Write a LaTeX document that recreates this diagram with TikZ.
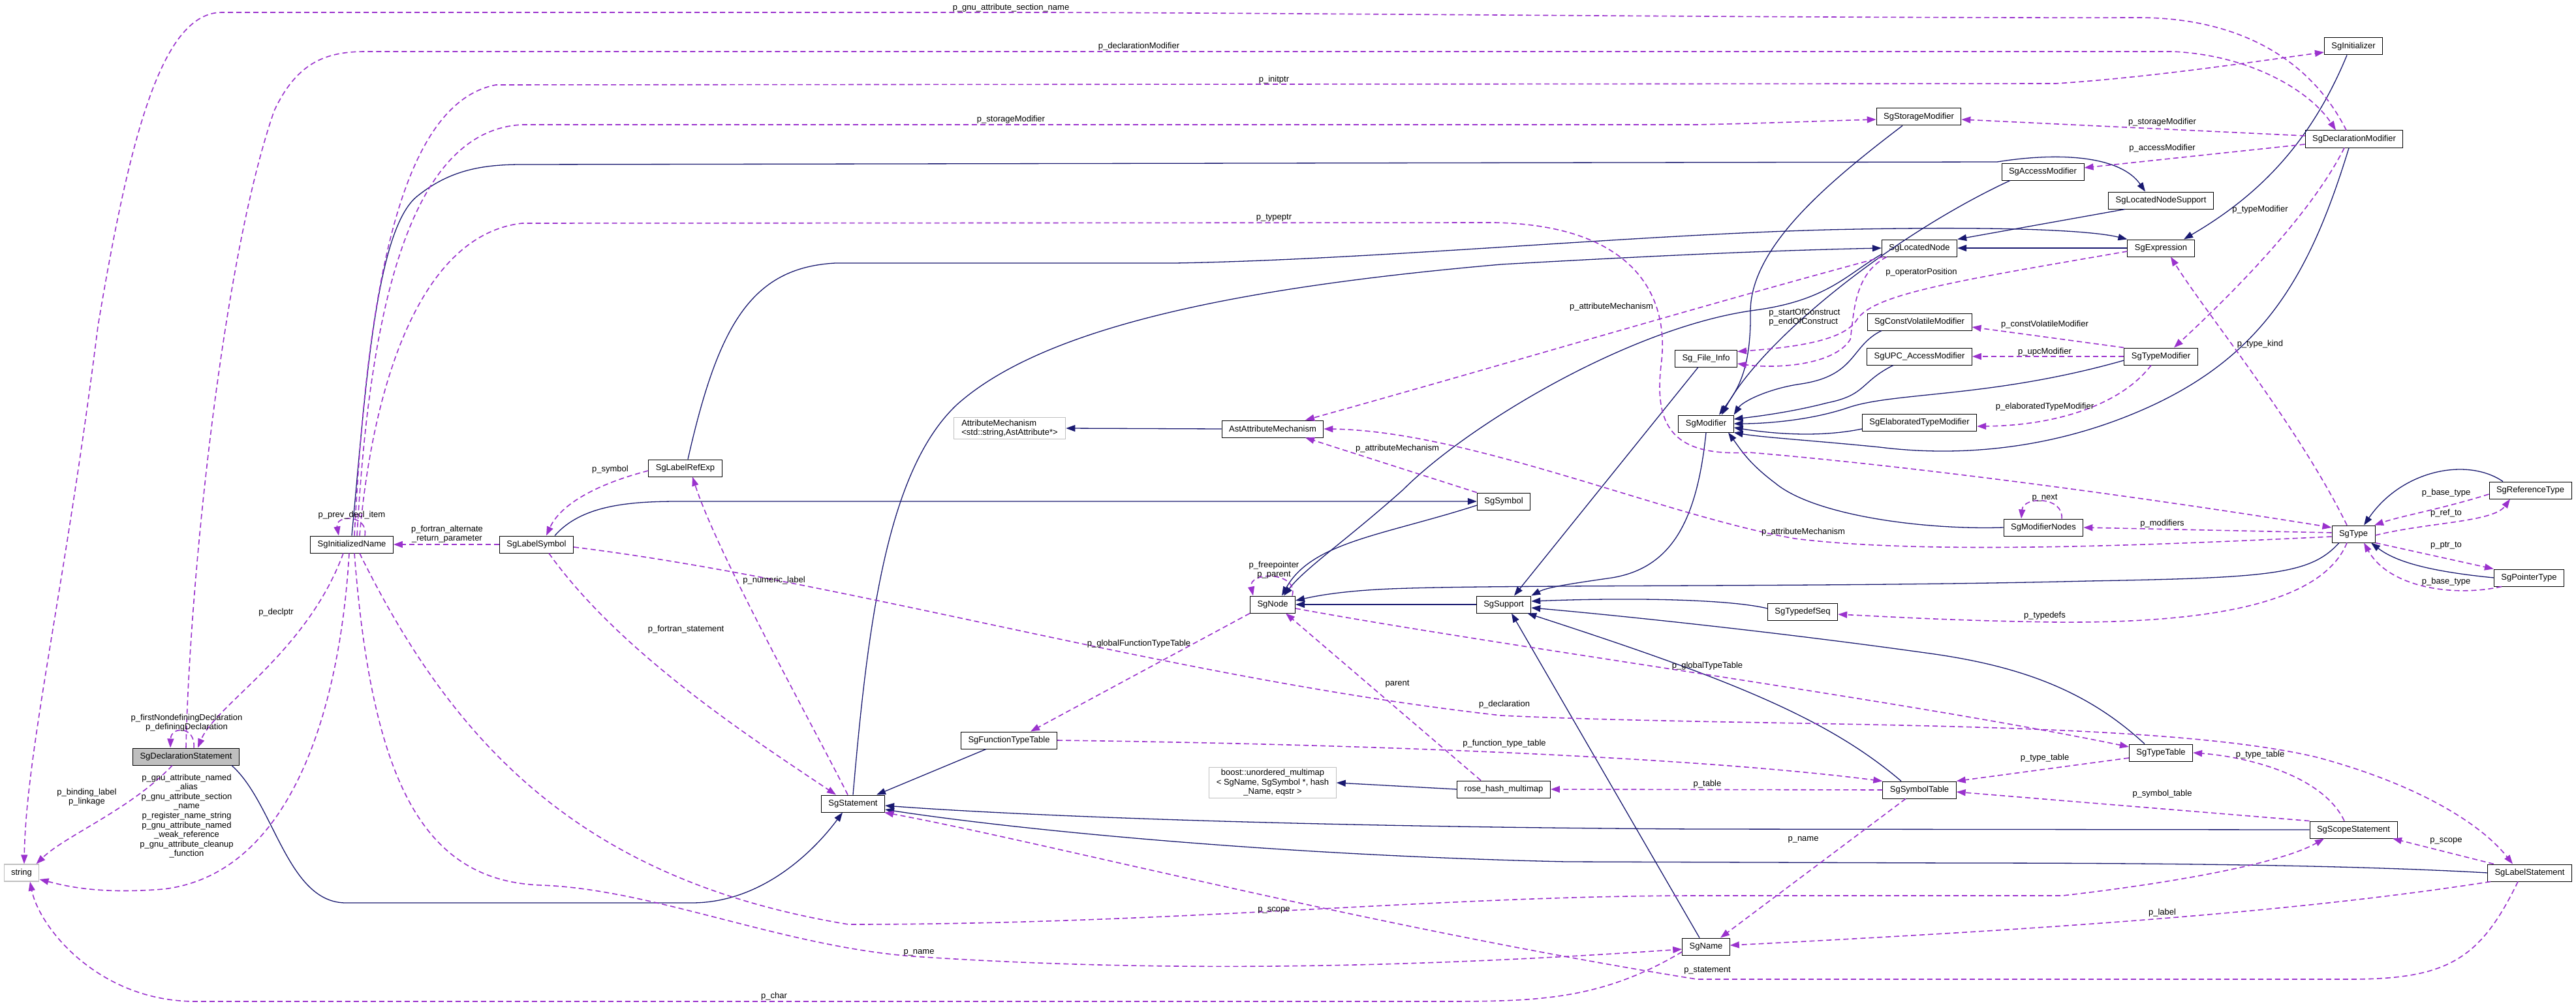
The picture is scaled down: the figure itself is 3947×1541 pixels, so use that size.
\documentclass[tikz,border=0pt]{standalone}
\usepackage{fontspec}
\setmainfont{Liberation Sans}
\usetikzlibrary{arrows.meta}
\definecolor{inhblue}{RGB}{25,25,112}
\definecolor{usepurple}{RGB}{154,50,205}
\definecolor{focusgray}{RGB}{191,191,191}
\definecolor{extgray}{RGB}{191,191,191}
\tikzset{
  cls/.style={draw=black, fill=white, line width=1pt, inner xsep=11pt, inner ysep=3pt,
    minimum height=26pt, font=\fontsize{13}{14.6}\selectfont},
  extcls/.style={cls, draw=extgray, line width=1.2pt},
  inh/.style={draw=inhblue, line width=1.3pt, -{Triangle[length=14pt,width=10pt]}},
  member/.style={draw=usepurple, line width=1.6pt, dash pattern=on 8pt off 5pt,
    -{Triangle[length=14pt,width=10pt]}},
  lbl/.style={font=\fontsize{13}{14.6}\selectfont, inner sep=0pt, align=center},
}

\begin{document}
\begin{tikzpicture}[x=1pt, y=-1pt]

  % canvas
  \fill[white, use as bounding box] (0,0) rectangle (3947,1541);

  % classes
  \node[cls, fill=focusgray] (decl) at (285,1159) {SgDeclarationStatement};
  \node[extcls] (str) at (33,1337) {string};
  \node[cls] (initname) at (539,834) {SgInitializedName};
  \node[cls] (labelsym) at (822,834) {SgLabelSymbol};
  \node[cls] (labelref) at (1050,717) {SgLabelRefExp};
  \node[cls] (stmt) at (1307,1231) {SgStatement};
  \node[cls] (ftypetab) at (1546,1134) {SgFunctionTypeTable};
  \node[extcls, align=left, inner xsep=12pt] (attrmech) at (1547,656)
    {AttributeMechanism\\<std::string,AstAttribute*>};
  \node[cls] (astattr) at (1950,657) {AstAttributeMechanism};
  \node[cls] (sgnode) at (1950,926) {SgNode};
  \node[extcls, align=center] (boost) at (1950,1199)
    {boost::unordered\_multimap\\< SgName, SgSymbol *, hash\\\_Name, eqstr >};
  \node[cls] (symbol) at (2304,768) {SgSymbol};
  \node[cls] (support) at (2304,926) {SgSupport};
  \node[cls] (rosehash) at (2304,1209) {rose\_hash\_multimap};
  \node[cls] (fileinfo) at (2614,549) {Sg\_File\_Info};
  \node[cls] (modifier) at (2614,649) {SgModifier};
  \node[cls] (sgname) at (2614,1450) {SgName};
  \node[cls] (storage) at (2940,179) {SgStorageModifier};
  \node[cls] (located) at (2941,380) {SgLocatedNode};
  \node[cls] (cvmod) at (2941,493) {SgConstVolatileModifier};
  \node[cls] (upcmod) at (2941,546) {SgUPC\_AccessModifier};
  \node[cls] (elabmod) at (2941,647) {SgElaboratedTypeModifier};
  \node[cls] (typedefseq) at (2762,937) {SgTypedefSeq};
  \node[cls] (symtab) at (2941,1210) {SgSymbolTable};
  \node[cls] (access) at (3130,263) {SgAccessModifier};
  \node[cls] (modnodes) at (3131,808) {SgModifierNodes};
  \node[cls] (locsupport) at (3311,307) {SgLocatedNodeSupport};
  \node[cls] (expr) at (3311,380) {SgExpression};
  \node[cls] (typemod) at (3311,546) {SgTypeModifier};
  \node[cls] (typetab) at (3311,1153) {SgTypeTable};
  \node[cls] (initializer) at (3606,71) {SgInitializer};
  \node[cls] (declmod) at (3607,213) {SgDeclarationModifier};
  \node[cls] (sgtype) at (3606,818) {SgType};
  \node[cls] (scope) at (3606,1271) {SgScopeStatement};
  \node[cls] (reftype) at (3877,751) {SgReferenceType};
  \node[cls] (ptrtype) at (3875,885) {SgPointerType};
  \node[cls] (labelstmt) at (3876,1337) {SgLabelStatement};

  % inheritance
  \draw[inh] ([xshift=-12pt]decl.south east) .. controls (420,1230) and (440,1383) .. (530,1383)
    -- (1060,1383) .. controls (1170,1383) and (1250,1300) .. ([xshift=-16pt]stmt.south);
  \draw[inh] (stmt.north) .. controls (1330,950) and (1360,720) .. (1466,620)
    .. controls (1600,500) and (1900,440) .. (2300,405) .. controls (2600,388) and (2750,383) .. (located.west);
  \draw[inh] ([xshift=-35pt]ftypetab.south) -- ([xshift=36pt]stmt.north);
  \draw[inh] (scope.west) -- (2600,1270) .. controls (1900,1266) and (1500,1245) .. ([yshift=-3pt]stmt.east);
  \draw[inh] (labelstmt.west) .. controls (3600,1325) and (3300,1322) .. (3000,1322) -- (2400,1320)
    .. controls (1950,1310) and (1550,1270) .. ([yshift=-9pt]stmt.east);
  \draw[inh] ([xshift=28pt]labelsym.north) .. controls (890,775) and (960,768) .. (1040,768) -- (symbol.west);
  \draw[inh] ([yshift=-6pt]symbol.west) .. controls (2120,820) and (2010,830) .. ([xshift=14pt]sgnode.north);
  \draw[inh] ([yshift=4pt]located.south west) .. controls (2830,420) and (2800,460) .. (2690,475)
    .. controls (2500,500) and (2250,650) .. (2150,750) .. controls (2060,830) and (2000,870) .. ([xshift=17pt]sgnode.north);
  \draw[inh] (support.west) -- (sgnode.east);
  \draw[inh] ([xshift=-22pt]sgtype.south) .. controls (3540,880) and (3480,885) .. (3200,890)
    .. controls (2800,900) and (2300,895) .. (2130,902) .. controls (2060,905) and (2020,912) .. ([yshift=6pt]sgnode.east);
  \draw[inh] ([xshift=-25pt]storage.south) .. controls (2800,280) and (2680,380) .. (2682,480)
    .. controls (2683,570) and (2660,600) .. ([xshift=20pt]modifier.north);
  \draw[inh] ([xshift=-50pt]access.south) .. controls (2900,360) and (2700,520) .. ([xshift=24pt]modifier.north);
  \draw[inh] ([xshift=-58pt]cvmod.south) .. controls (2835,530) and (2845,575) .. (2760,588)
    .. controls (2710,595) and (2670,615) .. (modifier.north east);
  \draw[inh] ([xshift=-40pt]upcmod.south) .. controls (2850,585) and (2860,605) .. (2800,617)
    .. controls (2750,630) and (2700,637) .. ([yshift=7pt]modifier.east);
  \draw[inh] ([yshift=-6pt]typemod.west) .. controls (3050,610) and (2900,600) .. (2830,625)
    .. controls (2770,645) and (2700,649) .. (modifier.east);
  \draw[inh] ([yshift=-10pt]elabmod.west) .. controls (2790,670) and (2720,665) .. ([yshift=-6pt]modifier.east);
  \draw[inh] ([xshift=-8pt]declmod.south) .. controls (3540,420) and (3470,540) .. (3300,620)
    .. controls (3150,690) and (3000,700) .. (2880,685) .. controls (2780,675) and (2700,670) .. (modifier.south east);
  \draw[inh] (modnodes.west) .. controls (2950,812) and (2780,790) .. (2720,740)
    .. controls (2680,710) and (2668,690) .. ([xshift=34pt]modifier.south);
  \draw[inh] (modifier.south) .. controls (2600,800) and (2560,870) .. (2470,885)
    .. controls (2400,895) and (2370,900) .. (support.north east);
  \draw[inh] ([xshift=-12pt]fileinfo.south) -- ([xshift=16pt]support.north);
  \draw[inh] ([yshift=5pt]typedefseq.west) .. controls (2650,918) and (2500,915) .. ([yshift=5pt]support.east);
  \draw[inh] ([xshift=-25pt]typetab.north) .. controls (3200,1060) and (3100,1020) .. (2950,1000)
    .. controls (2700,965) and (2450,940) .. ([yshift=-5pt]support.east);
  \draw[inh] ([xshift=-28pt]symtab.north) .. controls (2800,1100) and (2650,1040) .. ([xshift=-6pt]support.south east);
  \draw[inh] ([xshift=-10pt]sgname.north) -- ([xshift=12pt]support.south);
  \draw[inh] (rosehash.west) -- (boost.east);
  \draw[inh] (astattr.west) -- (attrmech.east);
  \draw[inh] ([xshift=-55pt]locsupport.south) -- (located.north east);
  \draw[inh] (expr.west) -- (located.east);
  \draw[inh] (initname.north) .. controls (560,600) and (575,350) .. (640,300)
    .. controls (690,260) and (740,252) .. (800,252) -- (3060,248)
    .. controls (3160,232) and (3250,240) .. ([xshift=-24pt]locsupport.north);
  \draw[inh] ([xshift=4pt]labelref.north) .. controls (1100,500) and (1150,410) .. (1280,403) -- (1800,403)
    .. controls (2100,398) and (2500,360) .. (2800,352) .. controls (3050,346) and (3200,352) .. (expr.north west);
  \draw[inh] ([xshift=-10pt]initializer.south) .. controls (3540,220) and (3460,300) .. ([xshift=35pt]expr.north);
  \draw[inh] ([xshift=-42pt]reftype.north) .. controls (3780,700) and (3680,720) .. ([xshift=16pt]sgtype.north);
  \draw[inh] (ptrtype.west) .. controls (3720,875) and (3670,860) .. ([xshift=27pt]sgtype.south);

  % members
  \draw[member] ([xshift=-12pt]declmod.north) .. controls (3540,90) and (3430,28) .. (3280,27)
    .. controls (2800,28) and (2000,20) .. (1600,19) -- (340,19)
    .. controls (250,19) and (200,200) .. (150,500) .. controls (100,900) and (40,1150) .. ([xshift=4pt]str.north);
  \draw[member] (decl.north) .. controls (290,900) and (340,400) .. (420,170)
    .. controls (455,95) and (500,79) .. (560,79) -- (3330,79)
    .. controls (3450,85) and (3540,140) .. ([xshift=-28pt]declmod.north);
  \draw[member] ([xshift=4pt]initname.north) .. controls (560,500) and (600,160) .. (760,130) -- (3150,128)
    .. controls (3300,118) and (3450,95) .. ([yshift=-9pt]initializer.west);
  \draw[member] ([xshift=8pt]initname.north) .. controls (565,500) and (620,200) .. (800,191) -- (2600,191)
    .. controls (2700,189) and (2800,185) .. ([yshift=-4pt]storage.west);
  \draw[member] ([yshift=5pt]declmod.west) -- ([yshift=-4pt]storage.east);
  \draw[member] ([yshift=-8pt]declmod.west) -- ([yshift=6pt]access.east);
  \draw[member] ([xshift=-15pt]declmod.south) .. controls (3540,330) and (3420,450) .. ([xshift=20pt]typemod.north);
  \draw[member] ([xshift=12pt]initname.north) .. controls (570,600) and (640,360) .. (800,342) -- (2290,341)
    .. controls (2500,345) and (2560,450) .. (2545,560) .. controls (2535,650) and (2560,700) .. (2680,693)
    .. controls (3000,720) and (3400,780) .. ([yshift=10pt]sgtype.west);
  \draw[member] (symbol.north west) -- ([xshift=50pt]astattr.south);
  \draw[member] ([xshift=2pt]located.south west) .. controls (2600,470) and (2300,560) .. ([xshift=50pt]astattr.north);
  \draw[member] ([yshift=-4pt]sgtype.west) .. controls (3300,835) and (2950,850) .. (2750,825)
    .. controls (2550,790) and (2250,660) .. (astattr.east);
  \draw[member] ([xshift=30pt]sgnode.north) .. controls (1990,875) and (1912,875) .. ([xshift=-30pt]sgnode.north);
  \draw[member] ([xshift=20pt]initname.north) .. controls (565,788) and (513,788) .. ([xshift=-20pt]initname.north);
  \draw[member] (labelsym.west) -- (initname.east);
  \draw[member] ([yshift=-4pt]labelref.west) .. controls (920,740) and (860,770) .. ([xshift=15pt]labelsym.north);
  \draw[member] ([xshift=-8pt]stmt.north) .. controls (1250,1120) and (1100,850) .. ([xshift=11pt]labelref.south);
  \draw[member] ([xshift=19pt]labelsym.south) .. controls (950,1000) and (1150,1130) .. ([xshift=-26pt]stmt.north);
  \draw[member] ([xshift=-13pt]initname.south) .. controls (470,1000) and (330,1080) .. ([xshift=18pt]decl.north);
  \draw[member] ([xshift=12pt]decl.north) .. controls (300,1112) and (262,1112) .. ([xshift=-24pt]decl.north);
  \draw[member] ([xshift=-21pt]decl.south) .. controls (200,1240) and (100,1280) .. ([xshift=-5pt]str.north east);
  \draw[member] ([xshift=-4pt]initname.south) .. controls (520,1100) and (440,1340) .. (250,1362)
    .. controls (150,1370) and (100,1357) .. ([yshift=-10pt]str.east);
  \draw[member] ([xshift=4pt]initname.south) .. controls (570,1200) and (650,1350) .. (830,1356)
    .. controls (1000,1362) and (1200,1450) .. (1400,1465)
    .. controls (1800,1492) and (2200,1480) .. ([yshift=-4pt]sgname.west);
  \draw[member] ([xshift=12pt]initname.south) .. controls (700,1150) and (900,1350) .. (1300,1416)
    .. controls (1800,1416) and (2200,1372) .. (2600,1372) -- (3160,1372)
    .. controls (3350,1350) and (3500,1320) .. ([xshift=-45pt]scope.south);
  \draw[member] ([yshift=-8pt]sgname.west) .. controls (2450,1534) and (2350,1534) .. (2200,1534) -- (300,1534)
    .. controls (150,1534) and (60,1420) .. ([xshift=13pt]str.south);
  \draw[member] ([xshift=-18pt]labelstmt.south) .. controls (3800,1470) and (3750,1500) .. (3600,1500) -- (2600,1500)
    .. controls (2100,1420) and (1600,1290) .. ([xshift=48pt]stmt.south);
  \draw[member] ([xshift=-60pt]labelstmt.south) .. controls (3500,1400) and (3100,1425) .. ([yshift=2pt]sgname.east);
  \draw[member] ([xshift=-55pt]labelstmt.north) -- ([xshift=60pt]scope.south);
  \draw[member] ([yshift=-4pt]labelsym.east) .. controls (1300,890) and (1800,1040) .. (2300,1096)
    .. controls (2700,1115) and (3300,1100) .. (3550,1160)
    .. controls (3700,1200) and (3800,1260) .. ([xshift=-26pt]labelstmt.north);
  \draw[member] ([yshift=-6pt]sgnode.east) .. controls (2300,990) and (2900,1070) .. ([yshift=9pt]typetab.west);
  \draw[member] (sgnode.south west) -- ([xshift=33pt]ftypetab.north);
  \draw[member] ([xshift=-35pt]rosehash.north) -- ([xshift=20pt]sgnode.south);
  \draw[member] (ftypetab.east) .. controls (2100,1140) and (2600,1160) .. (symtab.north west);
  \draw[member] (symtab.west) -- (rosehash.east);
  \draw[member] ([yshift=-8pt]typetab.west) -- (symtab.north east);
  \draw[member] ([xshift=-14pt]scope.north) .. controls (3560,1190) and (3450,1160) .. (typetab.east);
  \draw[member] (scope.north west) -- ([yshift=-3pt]symtab.east);
  \draw[member] ([xshift=-21pt]symtab.south) -- ([xshift=22pt]sgname.north);
  \draw[member] ([xshift=-10pt]sgtype.south) .. controls (3560,920) and (3400,955) .. (3150,953)
    .. controls (3000,951) and (2900,945) .. ([yshift=-4pt]typedefseq.east);
  \draw[member] ([yshift=2pt]sgtype.west) -- (modnodes.east);
  \draw[member] ([xshift=28pt]modnodes.north) .. controls (3162,760) and (3100,760) .. ([xshift=-34pt]modnodes.north);
  \draw[member] ([yshift=-6pt]reftype.west) .. controls (3740,780) and (3680,790) .. ([xshift=32pt]sgtype.north);
  \draw[member] ([yshift=-2pt]sgtype.east) .. controls (3720,800) and (3820,800) .. ([xshift=-31pt]reftype.south);
  \draw[member] (sgtype.south east) -- (ptrtype.north west);
  \draw[member] ([xshift=-42pt]ptrtype.south) .. controls (3760,915) and (3660,900) .. ([xshift=16pt]sgtype.south);
  \draw[member] ([xshift=-10pt]sgtype.north) .. controls (3520,650) and (3380,480) .. ([xshift=15pt]expr.south);
  \draw[member] ([yshift=-5pt]expr.west) .. controls (3000,430) and (2870,450) .. (2845,490)
    .. controls (2825,522) and (2750,532) .. ([yshift=-3pt]fileinfo.north east);
  \draw[member] ([xshift=8pt]located.south west) .. controls (2840,420) and (2841,480) .. (2835,520)
    .. controls (2810,560) and (2720,565) .. ([yshift=-8pt]fileinfo.east);
  \draw[member] (typemod.north west) -- ([yshift=-8pt]cvmod.east);
  \draw[member] (typemod.west) -- (upcmod.east);
  \draw[member] ([xshift=-15pt]typemod.south) .. controls (3250,620) and (3150,652) .. ([yshift=-6pt]elabmod.east);

  % edge labels
  \node[lbl] (l-section) at (1549,12) {p\_gnu\_attribute\_section\_name};
  \node[lbl] (l-declmod) at (1745,71) {p\_declarationModifier};
  \node[lbl] (l-initptr) at (1952,122) {p\_initptr};
  \node[lbl] (l-storage1) at (1549,183) {p\_storageModifier};
  \node[lbl] (l-typeptr) at (1952,334) {p\_typeptr};
  \node[lbl] (l-attr1) at (2469,470) {p\_attributeMechanism};
  \node[lbl] (l-storage2) at (3313,187) {p\_storageModifier};
  \node[lbl] (l-access) at (3313,227) {p\_accessModifier};
  \node[lbl] (l-typemod) at (3463,321) {p\_typeModifier};
  \node[lbl] (l-oppos) at (2944,417) {p\_operatorPosition};
  \node[lbl, align=left] (l-construct) at (2765,486) {p\_startOfConstruct\\p\_endOfConstruct};
  \node[lbl] (l-cvmod) at (3133,497) {p\_constVolatileModifier};
  \node[lbl] (l-upcmod) at (3133,539) {p\_upcModifier};
  \node[lbl] (l-elabmod) at (3133,623) {p\_elaboratedTypeModifier};
  \node[lbl] (l-typekind) at (3463,527) {p\_type\_kind};
  \node[lbl] (l-next) at (3133,763) {p\_next};
  \node[lbl] (l-modifiers) at (3313,802) {p\_modifiers};
  \node[lbl] (l-attr2) at (2763,815) {p\_attributeMechanism};
  \node[lbl] (l-basetype1) at (3748,755) {p\_base\_type};
  \node[lbl] (l-refto) at (3748,786) {p\_ref\_to};
  \node[lbl] (l-ptrto) at (3748,836) {p\_ptr\_to};
  \node[lbl] (l-basetype2) at (3748,891) {p\_base\_type};
  \node[lbl] (l-typedefs) at (3133,943) {p\_typedefs};
  \node[lbl] (l-attr3) at (2141,687) {p\_attributeMechanism};
  \node[lbl] (l-parentptr) at (1952,873) {p\_freepointer\\p\_parent};
  \node[lbl] (l-gfuncttab) at (1745,986) {p\_globalFunctionTypeTable};
  \node[lbl] (l-prevdecl) at (539,789) {p\_prev\_decl\_item};
  \node[lbl] (l-altreturn) at (685,818) {p\_fortran\_alternate\\\_return\_parameter};
  \node[lbl] (l-symbol) at (935,719) {p\_symbol};
  \node[lbl] (l-declptr) at (423,938) {p\_declptr};
  \node[lbl] (l-fstmt) at (1051,964) {p\_fortran\_statement};
  \node[lbl] (l-numlabel) at (1186,889) {p\_numeric\_label};
  \node[lbl] (l-defdecl) at (286,1107) {p\_firstNondefiningDeclaration\\p\_definingDeclaration};
  \node[lbl] (l-binding) at (133,1221) {p\_binding\_label\\p\_linkage};
  \node[lbl] (l-gnu) at (286,1250) {p\_gnu\_attribute\_named\\\_alias\\p\_gnu\_attribute\_section\\\_name\\p\_register\_name\_string\\p\_gnu\_attribute\_named\\\_weak\_reference\\p\_gnu\_attribute\_cleanup\\\_function};
  \node[lbl] (l-char) at (1186,1526) {p\_char};
  \node[lbl] (l-parent) at (2141,1048) {parent};
  \node[lbl] (l-declaration) at (2305,1079) {p\_declaration};
  \node[lbl] (l-ftypetab) at (2305,1139) {p\_function\_type\_table};
  \node[lbl] (l-scope1) at (1952,1394) {p\_scope};
  \node[lbl] (l-name1) at (1408,1459) {p\_name};
  \node[lbl] (l-gtypetab) at (2616,1020) {p\_globalTypeTable};
  \node[lbl] (l-table) at (2616,1201) {p\_table};
  \node[lbl] (l-statement) at (2616,1487) {p\_statement};
  \node[lbl] (l-typetab1) at (3133,1161) {p\_type\_table};
  \node[lbl] (l-typetab2) at (3463,1156) {p\_type\_table};
  \node[lbl] (l-symtab) at (3313,1216) {p\_symbol\_table};
  \node[lbl] (l-name2) at (2763,1286) {p\_name};
  \node[lbl] (l-scope2) at (3748,1288) {p\_scope};
  \node[lbl] (l-label) at (3313,1398) {p\_label};

\end{tikzpicture}
\end{document}
